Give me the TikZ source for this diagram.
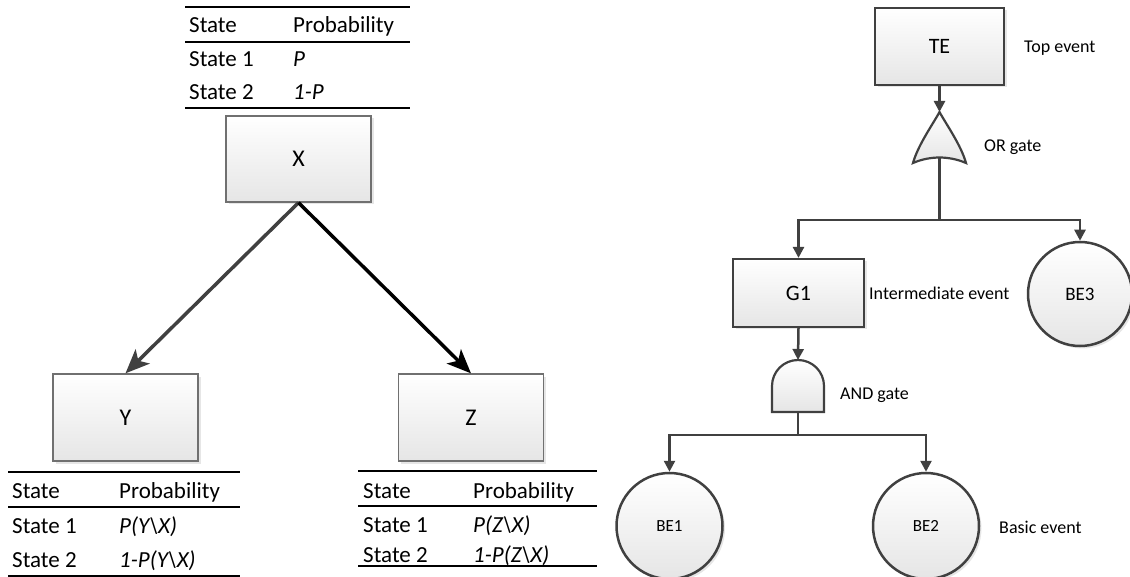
\documentclass[tikz,border=0pt]{standalone}
\usepackage{fontspec}
\setmainfont{Carlito}
\usetikzlibrary{arrows.meta,shadows}
\definecolor{dk}{HTML}{404040}
\definecolor{bd}{HTML}{707070}
\newcommand{\bigf}{\fontsize{23}{27}\selectfont}
\newcommand{\nodef}{\fontsize{24}{28}\selectfont}
\newcommand{\midf}{\fontsize{22}{26}\selectfont}
\newcommand{\smf}{\fontsize{18}{21}\selectfont}
\tikzset{
  grad/.style={top color=white, bottom color=gray!20},
  shad/.style={drop shadow={shadow xshift=2.5pt, shadow yshift=-2.5pt, opacity=0.2, fill=gray}},
  bnbox/.style={draw=bd, line width=1.3pt, grad, shad, minimum width=145pt, minimum height=86pt, inner sep=0pt},
  ftbox/.style={draw=dk, line width=2.2pt, grad, shad, inner sep=0pt},
  evc/.style={circle, draw=dk, line width=2.5pt, grad, shad, inner sep=0pt},
  gate/.style={draw=dk, line width=2.2pt, grad},
  bnarr/.style={line width=3.5pt, -{Stealth[length=24pt,width=20pt,inset=6pt]}},
  ftarr/.style={draw=dk, line width=2.5pt, -{Triangle[length=11pt,width=11pt]}},
  ftline/.style={draw=dk, line width=2.5pt},
  rule/.style={line width=1.8pt},
  tt/.style={anchor=base west, inner sep=0pt, font=\bigf},
  lab/.style={anchor=west, inner sep=0pt, font=\smf},
}
\begin{document}
\begin{tikzpicture}[x=1pt,y=-1pt]
\useasboundingbox (0,0) rectangle (1130,577);

% ---------- Bayesian network ----------
\node[bnbox] (X) at (298.5,159) {\nodef X};
\node[bnbox, minimum height=87pt] (Y) at (125.5,417.5) {\nodef Y};
\node[bnbox, minimum height=87pt] (Z) at (471,417.5) {\nodef Z};
\draw[bnarr, draw=dk, fill=dk] (X.south) -- (Y.north);
\draw[bnarr, draw=black, fill=black] (X.south) -- (Z.north);

% top table
\draw[rule] (185,7) -- (410,7);
\draw[rule] (185,42) -- (410,42);
\draw[rule] (185,108) -- (410,108);
\node[tt] (tx1) at (189,33) {State};
\node[tt] (tx2) at (293,33) {Probability};
\node[tt] (tx3) at (189,67) {State 1};
\node[tt] (tx4) at (293,67) {\itshape P};
\node[tt] (tx5) at (189,100) {State 2};
\node[tt] (tx6) at (293,100) {\itshape 1-P};

% Y table
\draw[rule] (8,472) -- (240,472);
\draw[rule] (8,507) -- (240,507);
\draw[rule] (8,576) -- (240,576);
\node[tt] (ty1) at (12,498) {State};
\node[tt] (ty2) at (119,498) {Probability};
\node[tt] (ty3) at (12,533) {State 1};
\node[tt] (ty4) at (119,533) {\itshape P(Y\textbackslash X)};
\node[tt] (ty5) at (12,567) {State 2};
\node[tt] (ty6) at (119,567) {\itshape 1-P(Y\textbackslash X)};

% Z table
\draw[rule] (358,471) -- (597,471);
\draw[rule] (358,506) -- (597,506);
\draw[rule] (358,566) -- (597,566);
\node[tt] (tz1) at (363,498) {State};
\node[tt] (tz2) at (473,498) {Probability};
\node[tt] (tz3) at (363,532) {State 1};
\node[tt] (tz4) at (473,532) {\itshape P(Z\textbackslash X)};
\node[tt] (tz5) at (363,562) {State 2};
\node[tt] (tz6) at (473,562) {\itshape 1-P(Z\textbackslash X)};

% ---------- Fault tree ----------
\node[ftbox, minimum width=129pt, minimum height=77pt] (TE) at (939.5,46.5) {\midf TE};
\node[lab] (lTE) at (1024,48) {Top event};

% OR gate
\coordinate (ortop) at (939.5,112);
\coordinate (orbot) at (939.5,157.5);
\coordinate (orj) at (939.5,220);
\draw[gate] (ortop) .. controls (933,124) and (918,145) .. (913,163)
  .. controls (922,159) and (932,157.5) .. (orbot)
  .. controls (947,157.5) and (957,159) .. (966,163)
  .. controls (961,145) and (946,124) .. (ortop) -- cycle;
\node[lab] (lOR) at (984,147) {OR gate};
\draw[ftarr] (TE.south) -- (ortop);
\draw[ftline] (orbot) -- (orj);

\node[ftbox, minimum width=131pt, minimum height=68pt] (G1) at (798.5,293) {\midf G1};
\node[lab] (lG1) at (869,293) {Intermediate event};
\node[evc, minimum size=104pt] (BE3) at (1080,294) {\fontsize{19}{22}\selectfont BE3};
\draw[ftarr] (orj) -| (G1.north);
\draw[ftarr] (orj) -| (BE3.north);

% AND gate
\coordinate (andtop) at (798,360);
\coordinate (andbot) at (798,412);
\coordinate (andj) at (798,435);
\draw[gate] (772,412) -- (772,386) arc[start angle=180, end angle=360, radius=26] -- (824,412) -- cycle;
\node[lab] (lAND) at (840,395) {AND gate};
\draw[ftarr] (G1.south) -- (andtop);
\draw[ftline] (andbot) -- (andj);

\node[evc, minimum size=106pt] (BE1) at (669.5,526) {\fontsize{17}{20}\selectfont BE1};
\node[evc, minimum size=106pt] (BE2) at (926,526) {\fontsize{17}{20}\selectfont BE2};
\node[lab] (lBE) at (999,527) {Basic event};
\draw[ftarr] (andj) -| (BE1.north);
\draw[ftarr] (andj) -| (BE2.north);
\end{tikzpicture}
\end{document}
